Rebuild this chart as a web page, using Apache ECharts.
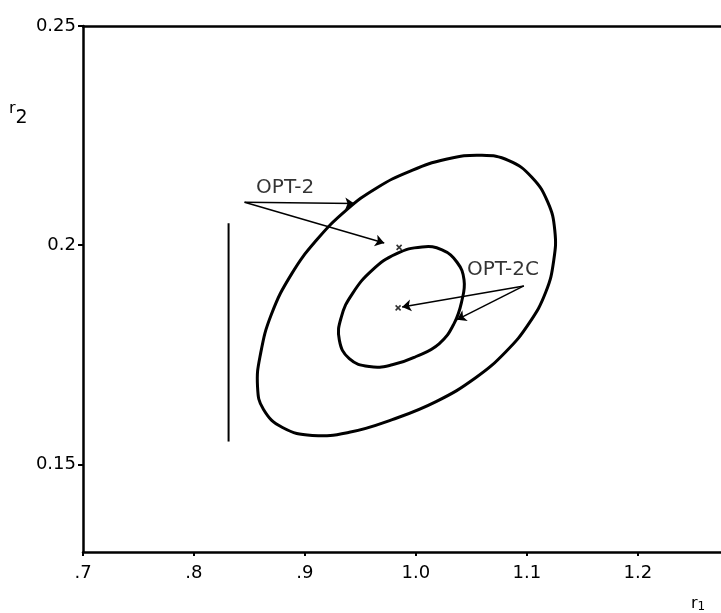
<!DOCTYPE html>
<html>
<head>
<meta charset="utf-8">
<script src="https://cdn.jsdelivr.net/npm/echarts@6/dist/echarts.min.js"></script>
<style>
  html, body { margin: 0; padding: 0; background: #fff; }
  #main { width: 721px; height: 613px; }
</style>
</head>
<body>
<div id="main"></div>
<script>
// axis ticks
var xTicks = [0.7, 0.8, 0.9, 1.0, 1.1, 1.2];
var xTickLabels = ['.7', '.8', '.9', '1.0', '1.1', '1.2'];
var yTicks = [0.15, 0.2, 0.25];
var yTickLabels = ['0.15', '0.2', '0.25'];

// outer contour (OPT-2), closed loop
var outerR1 = [0.8879, 0.9103, 0.9373, 0.9643, 0.9939, 1.0272, 1.0596, 1.0838, 1.1045, 1.1189, 1.1252, 1.1243,
  1.1171, 1.1018, 1.0811, 1.0542, 1.0182, 0.9787, 0.9400, 0.9067, 0.8798, 0.8627, 0.8573, 0.8600, 0.8699];
var outerR2 = [0.1934, 0.2011, 0.2080, 0.2130, 0.2168, 0.2196, 0.2205, 0.2193, 0.2155, 0.2098, 0.2034, 0.1966,
  0.1893, 0.1821, 0.1757, 0.1698, 0.1643, 0.1602, 0.1573, 0.1566, 0.1584, 0.1625, 0.1677, 0.1752, 0.1843];

// inner contour (OPT-2C), closed loop
var innerR1 = [0.9427, 0.9607, 0.9822, 1.0056, 1.0236, 1.0371, 1.0434, 1.0416, 1.0344, 1.0209, 1.0002, 0.9787,
  0.9580, 0.9400, 0.9310, 0.9328];
var innerR2 = [0.1889, 0.1943, 0.1980, 0.1996, 0.1989, 0.1961, 0.1921, 0.1875, 0.1821, 0.1775, 0.1746, 0.1727,
  0.1723, 0.1741, 0.1784, 0.1836];

// optimum points
var optR1 = [0.9849, 0.9840];
var optR2 = [0.1995, 0.1857];

// vertical bar on the left
var barR1 = [0.8312, 0.8312];
var barR2 = [0.2050, 0.1552];

// annotations: label position and arrow ends
var labelNames = ['OPT-2', 'OPT-2C'];
var labelR1 = [0.8560, 1.0460];
var labelR2 = [0.2130, 0.1943];
var arrowFrom = [[0.8456, 0.2098], [0.8456, 0.2098], [1.0973, 0.1907], [1.0973, 0.1907]];
var arrowTo = [[0.9445, 0.2095], [0.9715, 0.2005], [0.9876, 0.1859], [1.0371, 0.1830]];

var contours = [[outerR1, outerR2], [innerR1, innerR2]];

function zip(a, b) {
  return a.map(function (v, i) { return [v, b[i]]; });
}
function pick(ticks, labels) {
  return function (v) {
    for (var i = 0; i < ticks.length; i++) {
      if (Math.abs(ticks[i] - v) < 1e-6) return labels[i];
    }
    return '';
  };
}

var font = 'DejaVu Sans';
var chart = echarts.init(document.getElementById('main'));
chart.setOption({
  backgroundColor: '#fff',
  animation: false,
  textStyle: { fontFamily: font },
  grid: { left: 83, right: -2, top: 26, bottom: 61 },
  xAxis: [{
    type: 'value', min: 0.7, max: 1.275,
    axisLine: { lineStyle: { color: '#000', width: 2.5 } },
    axisTick: { customValues: xTicks, length: 4, lineStyle: { color: '#000', width: 2 } },
    axisLabel: {
      customValues: xTicks, formatter: pick(xTicks, xTickLabels),
      color: '#000', fontSize: 18, fontFamily: font, margin: 12
    },
    splitLine: { show: false }
  }, {
    type: 'value', position: 'top', min: 0.7, max: 1.275,
    axisLine: { show: true, lineStyle: { color: '#000', width: 2.5 } },
    axisTick: { show: false }, axisLabel: { show: false }, splitLine: { show: false }
  }],
  yAxis: {
    type: 'value', min: 0.13, max: 0.25,
    axisLine: { lineStyle: { color: '#000', width: 2.5 } },
    axisTick: { customValues: yTicks, length: 5, lineStyle: { color: '#000', width: 2 } },
    axisLabel: {
      customValues: yTicks, formatter: pick(yTicks, yTickLabels),
      color: '#000', fontSize: 18, fontFamily: font, margin: 7
    },
    splitLine: { show: false }
  },
  graphic: [
    {
      type: 'text', left: 9, top: 101,
      style: {
        text: '{r|r}{s|2}', fill: '#000',
        rich: { r: { fontSize: 16, fontFamily: font, verticalAlign: 'top' }, s: { fontSize: 19, fontFamily: font, padding: [8, 0, 0, 0] } }
      }
    },
    {
      type: 'text', left: 691, top: 596,
      style: {
        text: '{r|r}{s|1}', fill: '#000',
        rich: { r: { fontSize: 16, fontFamily: font }, s: { fontSize: 12, fontFamily: font, padding: [6, 0, 0, 0] } }
      }
    }
  ],
  series: [
    {
      // closed smooth contours drawn through the axis scales
      type: 'custom',
      data: [0, 1],
      renderItem: function (params, api) {
        var c = contours[params.dataIndex];
        var pts = c[0].map(function (v, i) { return api.coord([v, c[1][i]]); });
        return {
          type: 'polygon',
          shape: { points: pts, smooth: 0.45 },
          style: { fill: 'none', stroke: '#000', lineWidth: 3 }
        };
      },
      encode: { x: -1, y: -1 },
      silent: true
    },
    {
      type: 'line', data: zip(barR1, barR2), showSymbol: false,
      lineStyle: { color: '#000', width: 2 }
    },
    {
      type: 'scatter', data: zip(optR1, optR2), symbol: 'path://M0,0L10,10M10,0L0,10', symbolSize: 5,
      itemStyle: { color: 'none', borderColor: '#000', borderWidth: 1.6 }
    },
    {
      type: 'lines', coordinateSystem: 'cartesian2d', symbol: ['none', 'arrow'], symbolSize: 9,
      lineStyle: { color: '#000', width: 1.5, opacity: 1 },
      data: arrowFrom.map(function (p, i) { return { coords: [p, arrowTo[i]] }; })
    },
    {
      type: 'scatter', symbolSize: 0,
      data: labelNames.map(function (n, i) { return { name: n, value: [labelR1[i], labelR2[i]] }; }),
      label: {
        show: true, position: 'right', distance: 0, formatter: '{b}',
        color: '#000', fontSize: 20, fontFamily: font
      }
    }
  ]
});
</script>
</body>
</html>
